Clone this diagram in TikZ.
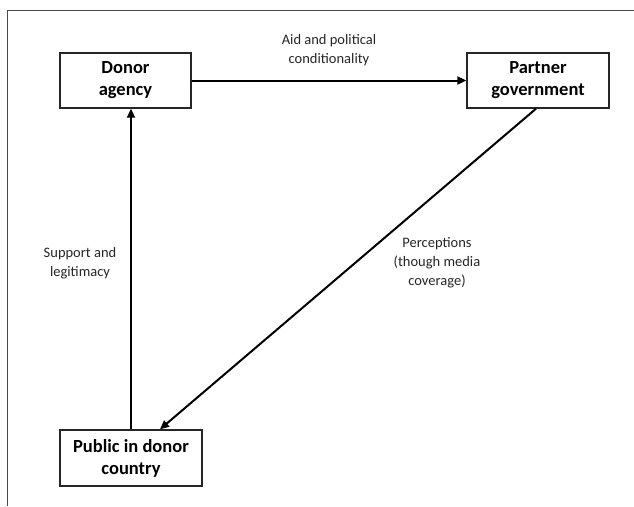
\documentclass[tikz,border=0pt]{standalone}
\usepackage{fontspec}
\setmainfont{Carlito}
\usetikzlibrary{arrows.meta}

\begin{document}
\begin{tikzpicture}[x=1pt,y=-1pt,
    actor/.style={draw=black!85,line width=1.4pt,fill=white,align=center,
      inner sep=0pt,font=\bfseries\fontsize{18.5}{22}\selectfont},
    flow/.style={line width=2pt,-{Triangle[length=9pt,width=8pt]}},
    note/.style={align=center,text=black!85,font=\fontsize{14.5}{19}\selectfont}]
  \useasboundingbox (0,0) rectangle (634,506);
  \draw[black!70,line width=1pt] (634,10) -- (7,10) -- (7,506);

  \node[actor,minimum width=131pt,minimum height=55pt] (don) at (125.5,80.5) {Donor\\agency};
  \node[actor,minimum width=142pt,minimum height=55pt] (par) at (538,80.5) {Partner\\government};
  \node[actor,minimum width=142pt,minimum height=56pt] (pub) at (131,458) {Public in donor\\country};

  \draw[flow] (don) -- (par);
  \draw[flow] (pub.north) -- (pub.north |- don.south);
  \draw[flow] ([xshift=-2pt]par.south) -- ([xshift=29pt]pub.north);

  \node[note] (aid) at (329,50) {Aid and political\\conditionality};
  \node[note] (sup) at (80,263) {Support and\\legitimacy};
  \node[note] (per) at (437,263) {Perceptions\\(though media\\coverage)};
\end{tikzpicture}
\end{document}
